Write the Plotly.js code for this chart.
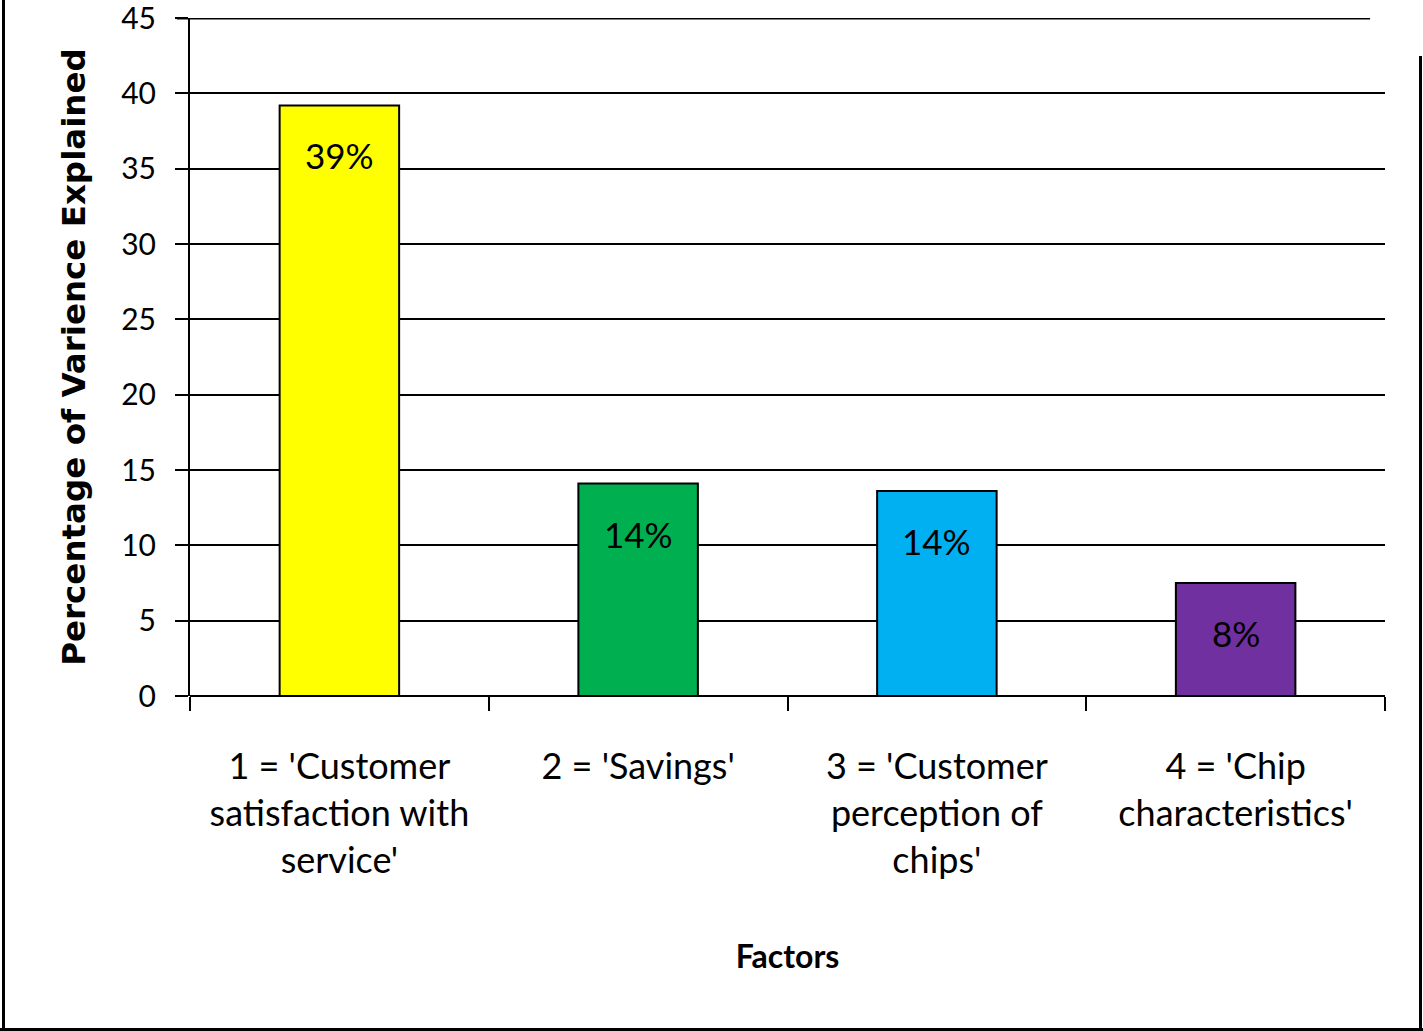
<!DOCTYPE html>
<html>
<head>
<meta charset="utf-8">
<script src="https://cdn.plot.ly/plotly-3.0.1.min.js"></script>
<style>
  html, body { margin:0; padding:0; background:#fff; }
  #wrap { position:relative; width:1423px; height:1031px; overflow:hidden; }
  #chart { position:absolute; left:0; top:0; width:1423px; height:1031px; }
  .fr { position:absolute; background:#000; pointer-events:none; }
</style>
</head>
<body>
<div id="wrap">
  <div id="chart"></div>
  <div class="fr" style="left:2px;top:0;width:3px;height:1031px;"></div>
  <div class="fr" style="left:0;top:1028px;width:1423px;height:3px;"></div>
  <div class="fr" style="left:1419px;top:56px;width:3px;height:975px;"></div>
</div>
<script>
const categories = [
  "1 = 'Customer<br>satisfaction with<br>service'",
  "2 = 'Savings'",
  "3 = 'Customer<br>perception of<br>chips'",
  "4 = 'Chip<br>characteristics'"
];
const variance = [39.2, 14.1, 13.6, 7.5];
const valueLabels = ["39%", "14%", "14%", "8%"];
const barColors = ["#FFFF00", "#00B050", "#00B0F0", "#7030A0"];
const yTicks = [0, 5, 10, 15, 20, 25, 30, 35, 40, 45];
const yMax = 45;

const narrow = "Lato, 'Open Sans', sans-serif";

const trace = {
  type: 'bar',
  x: categories,
  y: variance,
  width: 0.4,
  marker: { color: barColors, line: { color: '#000', width: 2 } },
  hoverinfo: 'none'
};

const annotations = categories.map((c, i) => ({
  x: c, y: variance[i], xref: 'x', yref: 'y',
  text: valueLabels[i], showarrow: false,
  yanchor: 'middle', yshift: -50,
  font: { family: narrow, size: 35, color: '#000' }
}));

const layout = {
  width: 1423, height: 1031,
  margin: { l: 190, r: 38, t: 18, b: 335 },
  paper_bgcolor: '#fff', plot_bgcolor: '#fff',
  showlegend: false,
  bargap: 0.6,
  xaxis: {
    type: 'category',
    tickson: 'boundaries',
    tickangle: 0,
    ticks: 'outside', ticklen: 14, tickwidth: 2, tickcolor: '#000',
    showgrid: false, showline: false, zeroline: false,
    tickfont: { family: narrow, size: 36, color: '#000' },
    ticklabelstandoff: 46,
    title: { text: '<b>Factors</b>', font: { family: narrow, size: 32, color: '#000' }, standoff: 66 }
  },
  yaxis: {
    range: [0, yMax],
    tickvals: yTicks,
    ticks: 'outside', ticklen: 13, tickwidth: 2, tickcolor: '#000',
    showgrid: true, gridcolor: '#000', gridwidth: 2,
    zeroline: true, zerolinecolor: '#000', zerolinewidth: 2,
    showline: true, linecolor: '#000', linewidth: 2,
    tickfont: { family: narrow, size: 30, color: '#000' },
    ticklabelstandoff: 13,
    ticklabeloverflow: 'allow',
    title: { text: '<b>Percentage of Varience Explained</b>', font: { family: "'DejaVu Sans', Verdana, sans-serif", size: 32.5, color: '#000' }, standoff: 26 }
  },
  shapes: [{
    type: 'line', xref: 'paper', yref: 'y',
    x0: -0.011, x1: 0.9875, y0: yMax, y1: yMax,
    line: { color: '#000', width: 3 }
  }],
  annotations: annotations
};

Plotly.newPlot('chart', [trace], layout, { displayModeBar: false, staticPlot: true });
</script>
</body>
</html>
